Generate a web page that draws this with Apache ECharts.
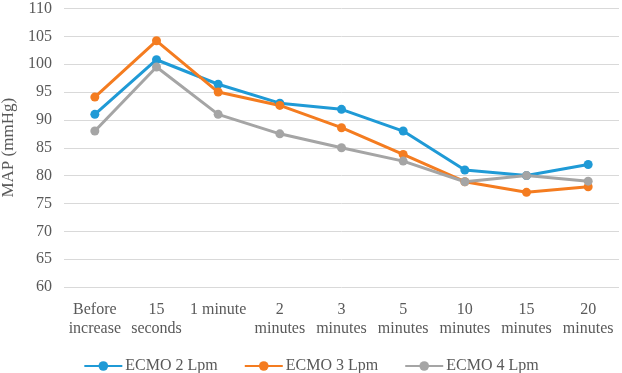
<!DOCTYPE html>
<html>
<head>
<meta charset="utf-8">
<script src="https://cdn.jsdelivr.net/npm/echarts@6/dist/echarts.min.js"></script>
<style>
  html, body { margin: 0; padding: 0; background: #fff; }
  #chart { width: 622px; height: 373px; }
</style>
</head>
<body>
<div id="chart"></div>
<script>
// time points after flow increase
const categories = ['Before\nincrease', '15\nseconds', '1 minute\n', '2\nminutes', '3\nminutes',
  '5\nminutes', '10\nminutes', '15\nminutes', '20\nminutes']
const ecmo2 = [91, 100.8, 96.4, 93, 91.9, 88, 81, 80, 82]
const ecmo3 = [94.1, 104.2, 95, 92.6, 88.6, 83.8, 78.9, 77, 78]
const ecmo4 = [88, 99.5, 91, 87.5, 85, 82.6, 78.9, 80, 79]
const seriesNames = ['ECMO 2 Lpm', 'ECMO 3 Lpm', 'ECMO 4 Lpm']
const colors = ['#1f9ad6', '#f47c20', '#a5a5a5']

const font = 'Liberation Serif'
const chart = echarts.init(document.getElementById('chart'))

const makeLine = (name, data, color) => ({
  name: name,
  type: 'line',
  data: data,
  symbol: 'circle',
  symbolSize: 9,
  lineStyle: { width: 3, color: color },
  itemStyle: { color: color },
  emphasis: { disabled: true }
})

chart.setOption({
  animation: false,
  color: colors,
  grid: { left: 64, right: 3, top: 8.5, bottom: 86, outerBoundsMode: 'none', containLabel: false },
  legend: {
    top: 353,
    left: 'center',
    itemWidth: 38,
    itemHeight: 12,
    itemGap: 26,
    textStyle: { fontFamily: font, fontSize: 16, color: '#595959', padding: [0, 0, 0, -2] },
    data: seriesNames
  },
  xAxis: {
    type: 'category',
    data: categories,
    boundaryGap: true,
    axisLine: { show: false },
    axisTick: { show: false },
    axisLabel: {
      interval: 0,
      margin: 13,
      fontFamily: font,
      fontSize: 16,
      lineHeight: 19,
      color: '#595959'
    }
  },
  yAxis: {
    type: 'value',
    min: 60,
    max: 110,
    interval: 5,
    name: 'MAP (mmHg)',
    nameLocation: 'middle',
    nameGap: 40,
    nameTextStyle: { fontFamily: font, fontSize: 17, color: '#595959' },
    axisLine: { show: false },
    axisTick: { show: false },
    axisLabel: { margin: 12, fontFamily: font, fontSize: 16, color: '#595959' },
    splitLine: { lineStyle: { color: '#d9d9d9', width: 1 } }
  },
  series: [
    makeLine(seriesNames[0], ecmo2, colors[0]),
    makeLine(seriesNames[1], ecmo3, colors[1]),
    makeLine(seriesNames[2], ecmo4, colors[2])
  ]
})
</script>
</body>
</html>
